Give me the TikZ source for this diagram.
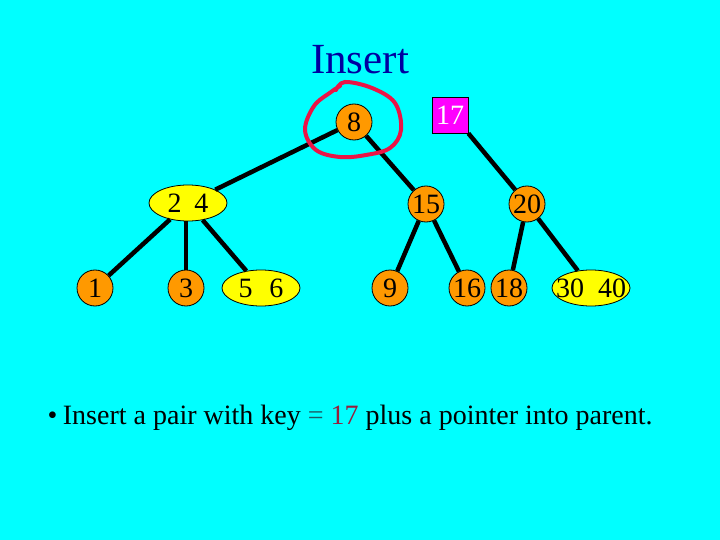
\documentclass[tikz,border=0pt]{standalone}
\usepackage{fontspec}
\setmainfont{Liberation Serif}
\usetikzlibrary{shapes.geometric}

\definecolor{bgcyan}{RGB}{0,255,255}
\definecolor{keyorange}{RGB}{255,153,0}
\definecolor{keyyellow}{RGB}{255,255,0}
\definecolor{keypink}{RGB}{255,0,255}
\definecolor{titleblue}{RGB}{0,0,160}
\definecolor{markred}{RGB}{235,20,70}
\definecolor{eqteal}{RGB}{30,90,100}
\definecolor{newkey}{RGB}{150,30,60}

\tikzset{
  onekey/.style={circle, draw, thick, fill=keyorange, minimum size=36pt, inner sep=0pt, font=\fontsize{28}{28}\selectfont},
  twokey/.style={ellipse, draw, thick, fill=keyyellow, minimum width=78pt, minimum height=36pt, inner ysep=0pt, inner xsep=-8pt, font=\fontsize{28}{28}\selectfont},
  newbox/.style={rectangle, draw, thick, fill=keypink, text=white, minimum size=36pt, inner sep=0pt, font=\fontsize{28}{28}\selectfont},
  link/.style={line width=4.5pt}
}

\begin{document}
\begin{tikzpicture}[x=1pt,y=-1pt]
\fill[bgcyan] (0,0) rectangle (720,540);
\useasboundingbox (0,0) rectangle (720,540);
\node[titleblue, font=\fontsize{43}{43}\selectfont] (title) at (360,60) {Insert};
% top level
\node[onekey] (n8) at (354,122) {8};
\node[newbox] (n17) at (450,115) {17};
% middle level
\node[twokey] (n24) at (188,203) {2\hspace{.45em}4};
\node[onekey] (n15) at (426,204) {15};
\node[onekey] (n20) at (527,204) {20};
% leaves
\node[onekey] (n1) at (95,288) {1};
\node[onekey] (n3) at (186,288) {3};
\node[twokey] (n56) at (261,288) {5\hspace{.6em}6};
\node[onekey] (n9) at (390,288) {9};
\node[onekey] (n16) at (467,288) {16};
\node[onekey] (n18) at (509,288) {18};
\node[twokey] (n3040) at (591,288) {30\hspace{.5em}40};
% links
\draw[link] (n8) -- (n24);
\draw[link] (n8) -- (n15);
\draw[link] (n17.south east) -- (n20);
\draw[link] (n24) -- (n1);
\draw[link] (n24.south -| n3) -- (n3);
\draw[link] (n24) -- (n56);
\draw[link] (n15) -- (n9);
\draw[link] (n15) -- (n16);
\draw[link] (n20) -- (n18);
\draw[link] (n20) -- (n3040);
% freehand ring round 8
\draw[markred, line width=4pt, line cap=round] plot[smooth, tension=0.6] coordinates {
  (336,90) (345,82) (372,88) (395,103) (401,130) (390,148) (366,155) (340,157)
  (316,150) (305,130) (314,106) (331,92) (340,86)};
\node[anchor=west, font=\fontsize{28}{28}\selectfont] (note) at (44,418)
  {\textbullet\hspace{.2em}Insert a pair with key \textcolor{eqteal}{=} \textcolor{newkey}{17} plus a pointer into parent.};
\end{tikzpicture}
\end{document}
